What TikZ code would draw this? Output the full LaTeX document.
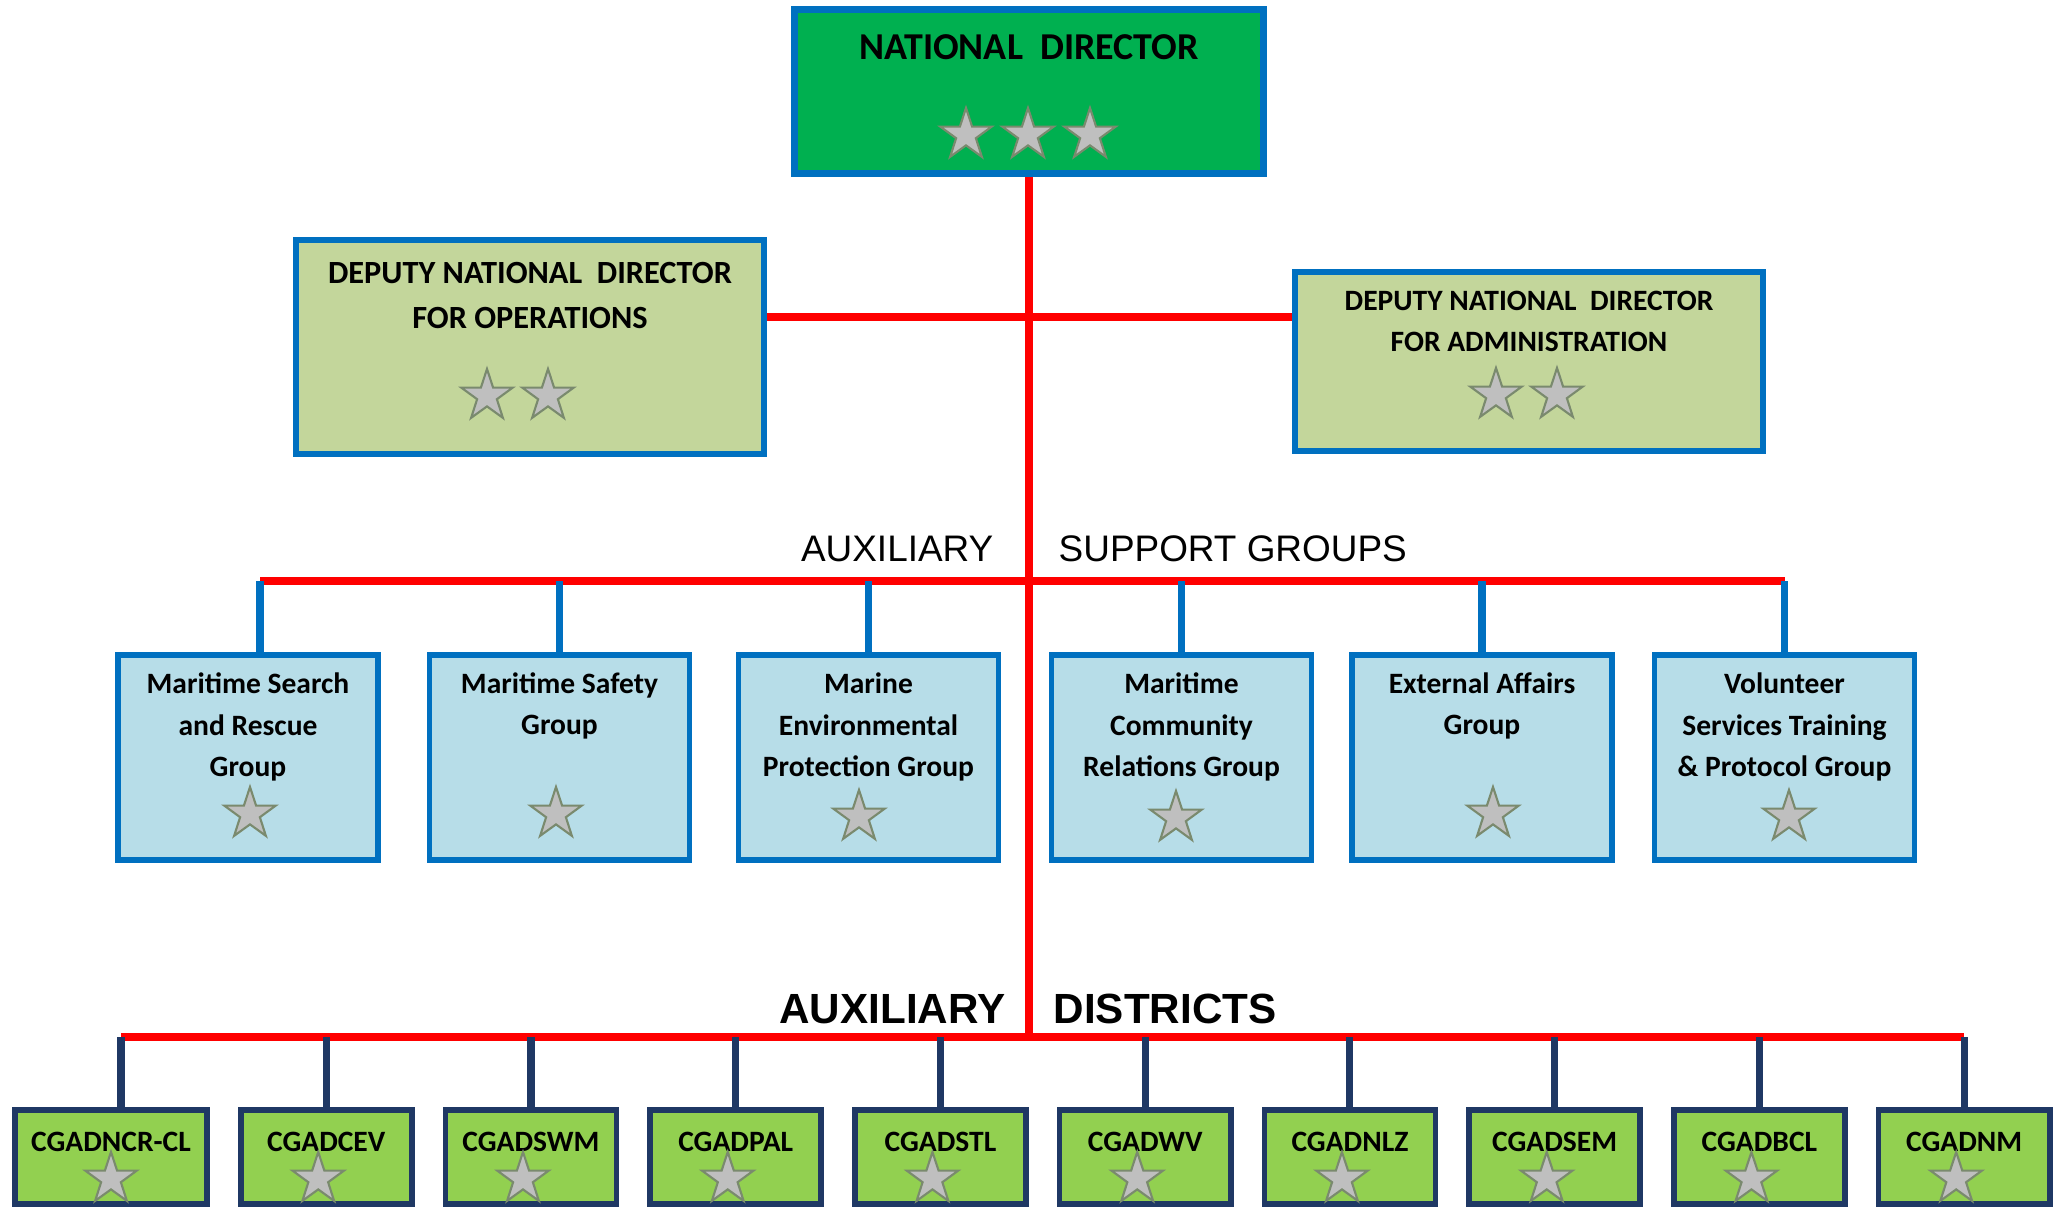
\documentclass[tikz,border=0pt]{standalone}
\usepackage{fontspec}
\setmainfont{Carlito}
\newfontfamily\arialfont{Liberation Sans}
\usepackage{tikz}
\usetikzlibrary{chains,shapes.geometric}
\definecolor{ndgreen}{HTML}{00B050}
\definecolor{olivebox}{HTML}{C3D69B}
\definecolor{groupblue}{HTML}{B7DDE8}
\definecolor{distgreen}{HTML}{92D050}
\definecolor{boxblue}{HTML}{0070C0}
\definecolor{navy}{HTML}{1F3864}
\definecolor{stargray}{HTML}{BFBFBF}
\definecolor{staredge}{HTML}{7A8A6E}
\newcommand{\ndfont}{\bfseries\fontsize{10.8}{13}\selectfont}
\newcommand{\depfont}{\bfseries\fontsize{9.2}{12.8}\selectfont}
\newcommand{\admfont}{\bfseries\fontsize{8.4}{11.7}\selectfont}
\newcommand{\grpfont}{\bfseries\fontsize{8.4}{11.9}\selectfont}
\newcommand{\distfont}{\bfseries\fontsize{8.4}{9}\selectfont}
\tikzstyle{orgbox}=[draw=boxblue,line width=1.6pt,inner sep=0pt]
\tikzstyle{topbox}=[orgbox,fill=ndgreen,line width=2pt,minimum width=4.69cm,minimum height=1.64cm]
\tikzstyle{deputy}=[orgbox,fill=olivebox,minimum width=4.68cm]
\tikzstyle{groupbox}=[orgbox,fill=groupblue,minimum width=2.6cm,minimum height=2.05cm]
\tikzstyle{district}=[draw=navy,line width=1.6pt,fill=distgreen,inner sep=0pt,minimum width=1.71cm,minimum height=0.94cm,font=\distfont,text height=0.19cm,text depth=0.29cm]
\tikzstyle{boxtext}=[inner sep=0pt,align=center]
\tikzstyle{rank}=[star,star points=5,star point ratio=2.6,minimum size=0.54cm,inner sep=0pt,fill=stargray,draw=staredge,line width=0.6pt]
\tikzstyle{redline}=[draw=red,line width=2.1pt]
\tikzstyle{bluelink}=[draw=boxblue,line width=2pt]
\tikzstyle{navylink}=[draw=navy,line width=2pt]
\tikzstyle{heading}=[font=\arialfont\fontsize{10.5}{12}\selectfont,inner sep=0pt]
\tikzstyle{bigheading}=[font=\arialfont\bfseries\fontsize{12}{13}\selectfont,inner sep=0pt]

\begin{document}
\begin{tikzpicture}[x=0.01cm,y=-0.01cm]
\useasboundingbox (0,0) rectangle (2069,1207);
% national director
\node[topbox] (nd) at (1029,91.5) {};
\node[boxtext,font=\ndfont] (ndtitle) at (1029,47) {NATIONAL~~DIRECTOR};
\node[rank] (ndstar1) at (966,135) {};
\node[rank] (ndstar2) at (1028,135) {};
\node[rank] (ndstar3) at (1090,135) {};
% deputies
\node[deputy,minimum height=2.14cm] (dndo) at (530,347) {};
\node[boxtext,font=\depfont] (dndotitle) at (530,295.5) {DEPUTY NATIONAL~~DIRECTOR\\FOR OPERATIONS};
\node[rank] (dndostar1) at (487,396) {};
\node[rank] (dndostar2) at (548,396) {};
\node[deputy,minimum height=1.79cm] (dnda) at (1529,361.5) {};
\node[boxtext,font=\admfont] (dndatitle) at (1529,321.5) {DEPUTY NATIONAL~~DIRECTOR\\FOR ADMINISTRATION};
\node[rank] (dndastar1) at (1496,395) {};
\node[rank] (dndastar2) at (1557,395) {};
% support groups
\node[heading,anchor=east] (auxsup) at (994,549) {AUXILIARY};
\node[heading,anchor=west] (supgroups) at (1058,549) {SUPPORT GROUPS};
\node[groupbox] (g1) at (248,757.5) {};
\node[boxtext,font=\grpfont] (g1title) at (248,727) {Maritime Search\\and Rescue\\Group};
\node[rank] (g1star) at (250,814) {};
\node[groupbox] (g2) at (559.5,757.5) {};
\node[boxtext,font=\grpfont] (g2title) at (559.5,706) {Maritime Safety\\Group};
\node[rank] (g2star) at (556,814) {};
\node[groupbox] (g3) at (868.5,757.5) {};
\node[boxtext,font=\grpfont] (g3title) at (868.5,727) {Marine\\Environmental\\Protection Group};
\node[rank] (g3star) at (859,817) {};
\node[groupbox] (g4) at (1181.5,757.5) {};
\node[boxtext,font=\grpfont] (g4title) at (1181.5,727) {Maritime\\Community\\Relations Group};
\node[rank] (g4star) at (1176,818) {};
\node[groupbox] (g5) at (1482,757.5) {};
\node[boxtext,font=\grpfont] (g5title) at (1482,706) {External Affairs\\Group};
\node[rank] (g5star) at (1493,814) {};
\node[groupbox] (g6) at (1784.5,757.5) {};
\node[boxtext,font=\grpfont] (g6title) at (1784.5,727) {Volunteer\\Services Training\\\& Protocol Group};
\node[rank] (g6star) at (1789,817) {};
% districts
\node[bigheading,anchor=east] (auxdist) at (1006,1009) {AUXILIARY};
\node[bigheading,anchor=west] (districts) at (1053,1009) {DISTRICTS};
\begin{scope}[start chain=districts going right,node distance=0.28cm]
    \node[on chain=districts,district,minimum width=1.92cm] (d1) at (111,1157) {CGADNCR-CL};
    \node[on chain=districts,district] (d2) {CGADCEV};
    \node[on chain=districts,district] (d3) {CGADSWM};
    \node[on chain=districts,district] (d4) {CGADPAL};
    \node[on chain=districts,district] (d5) {CGADSTL};
    \node[on chain=districts,district] (d6) {CGADWV};
    \node[on chain=districts,district] (d7) {CGADNLZ};
    \node[on chain=districts,district] (d8) {CGADSEM};
    \node[on chain=districts,district] (d9) {CGADBCL};
    \node[on chain=districts,district] (d10) {CGADNM};
\end{scope}
\node[rank] (d1star) at ([yshift=-0.22cm]d1.center) {};
\foreach \i in {2,...,10}
    \node[rank] (d\i star) at ([xshift=-0.08cm,yshift=-0.22cm]d\i.center) {};
% connectors
\coordinate (depbus) at (1029,317);
\coordinate (gbus) at (1029,581);
\coordinate (dbus) at (1029,1037);
\coordinate (g1top) at ([xshift=0.12cm]g1.north);
\coordinate (d1top) at ([xshift=0.1cm]d1.north);
\draw[redline] (nd.south) -- (dbus);
\draw[redline] (dndo.east |- depbus) -- (dnda.west |- depbus);
\draw[redline] (g1top |- gbus) -- (g6.north |- gbus);
\draw[bluelink] (g1top) -- (g1top |- gbus);
\foreach \i in {2,...,6}
    \draw[bluelink] (g\i.north) -- (g\i.north |- gbus);
\draw[redline] (d1top |- dbus) -- (d10.north |- dbus);
\draw[navylink] (d1top) -- (d1top |- dbus);
\foreach \i in {2,...,10}
    \draw[navylink] (d\i.north) -- (d\i.north |- dbus);
\end{tikzpicture}
\end{document}
